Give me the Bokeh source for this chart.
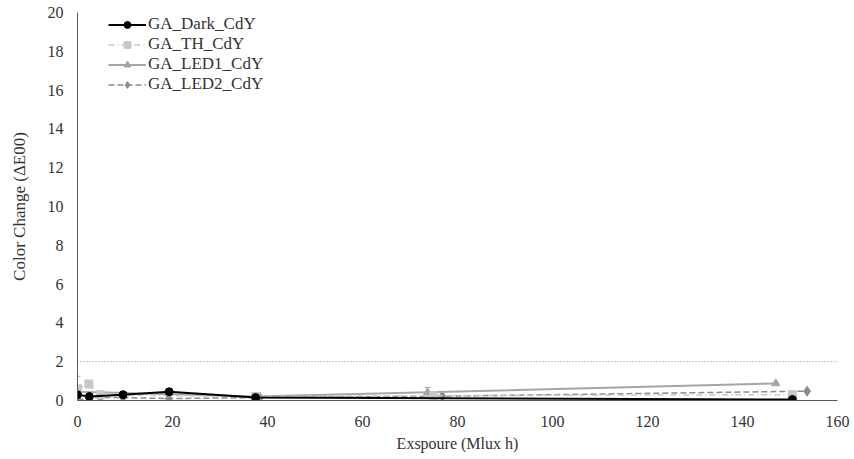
from bokeh.plotting import figure
from bokeh.models import ColumnDataSource, Whisker, Span, Legend, LegendItem, Range1d
from bokeh.embed import file_html
from bokeh.resources import INLINE

# Data
dark_x = [0, 2.5, 9.6, 19.3, 37.5, 150.5]
dark_y = [0.3, 0.2, 0.3, 0.45, 0.15, 0.05]

th_x = [0, 2.4, 4.8, 37.5, 75.0, 150.5]
th_y = [0.6, 0.85, 0.3, 0.2, 0.25, 0.3]

led1_x = [0, 37.5, 73.7, 147.0]
led1_y = [0.45, 0.2, 0.42, 0.88]
led1_err = [0.8, 0.05, 0.25, 0.05]

led2_x = [0, 4.8, 9.6, 19.2, 38.4, 76.8, 153.6]
led2_y = [0.05, 0.15, 0.15, 0.1, 0.15, 0.22, 0.48]

threshold = 2.0
x_ticks = [0, 20, 40, 60, 80, 100, 120, 140, 160]
y_ticks = [0, 2, 4, 6, 8, 10, 12, 14, 16, 18, 20]

FONT = "Liberation Serif"

p = figure(width=852, height=454, output_backend="svg", toolbar_location=None,
           x_range=Range1d(0, 160), y_range=Range1d(0, 20),
           min_border_left=77, min_border_right=15, min_border_top=12, min_border_bottom=53)
p.outline_line_color = None
p.xgrid.visible = False
p.ygrid.visible = False
p.background_fill_color = "white"

for ax in (p.xaxis[0], p.yaxis[0]):
    ax.major_tick_line_color = None
    ax.minor_tick_line_color = None
    ax.major_tick_out = 0
    ax.major_tick_in = 0
    ax.axis_line_color = "#595959"
    ax.axis_line_width = 1
    ax.major_label_text_font = FONT
    ax.major_label_text_font_size = "16px"
    ax.major_label_text_color = "#333333"
    ax.axis_label_text_font = FONT
    ax.axis_label_text_font_style = "normal"
    ax.axis_label_text_color = "#333333"

p.xaxis.axis_label_text_font_size = "16px"
p.yaxis.axis_label_text_font_size = "17px"
p.xaxis.ticker = x_ticks
p.yaxis.ticker = y_ticks
p.xaxis.axis_label = "Exspoure (Mlux h)"
p.yaxis.axis_label = "Color Change (ΔE00)"
p.xaxis.major_label_standoff = 15
p.yaxis.major_label_standoff = 14
p.xaxis.axis_label_standoff = 5
p.yaxis.axis_label_standoff = 16

p.add_layout(Span(location=threshold, dimension="width", line_color="#8c8c8c",
                  line_dash="1 2", line_width=1))

# Error bars for LED1
src1 = ColumnDataSource(dict(x=led1_x, y=led1_y,
                             upper=[a + b for a, b in zip(led1_y, led1_err)],
                             lower=[max(0, a - b) for a, b in zip(led1_y, led1_err)]))
w = Whisker(base="x", upper="upper", lower="lower", source=src1,
            line_color="#a6a6a6", line_width=1)
w.upper_head.size = 6
w.lower_head.size = 6
w.upper_head.line_color = "#a6a6a6"
w.lower_head.line_color = "#a6a6a6"
p.add_layout(w)

r_led2_l = p.line(led2_x, led2_y, line_color="#8c8c8c", line_width=1.5, line_dash="6 3")
r_led2_m = p.scatter(led2_x, led2_y, marker="diamond", size=10, fill_color="#8c8c8c",
                     line_color="#8c8c8c")
r_led1_l = p.line(led1_x, led1_y, line_color="#a6a6a6", line_width=2)
r_led1_m = p.scatter(led1_x, led1_y, marker="triangle", size=8, fill_color="#a6a6a6",
                     line_color="#a6a6a6")
r_th_l = p.line(th_x, th_y, line_color="#c8c8c8", line_width=1.5, line_dash="6 3 1 3")
r_th_m = p.scatter(th_x, th_y, marker="square", size=8, fill_color="#c8c8c8",
                   line_color="#c8c8c8")
r_dark_l = p.line(dark_x, dark_y, line_color="#000000", line_width=2)
r_dark_m = p.scatter(dark_x, dark_y, marker="circle", size=8, fill_color="#000000",
                     line_color="#000000")

legend = Legend(items=[
    LegendItem(label="GA_Dark_CdY", renderers=[r_dark_l, r_dark_m]),
    LegendItem(label="GA_TH_CdY", renderers=[r_th_l, r_th_m]),
    LegendItem(label="GA_LED1_CdY", renderers=[r_led1_l, r_led1_m]),
    LegendItem(label="GA_LED2_CdY", renderers=[r_led2_l, r_led2_m]),
], location=(31, 306))
legend.border_line_color = None
legend.background_fill_alpha = 0
legend.padding = 0
legend.margin = 0
legend.spacing = 0
legend.label_height = 17
legend.glyph_height = 17
legend.glyph_width = 38
legend.label_standoff = 2
legend.label_text_font = FONT
legend.label_text_font_size = "17px"
legend.label_text_color = "#333333"
p.add_layout(legend, "center")

open("out.html", "w").write(file_html(p, INLINE))
